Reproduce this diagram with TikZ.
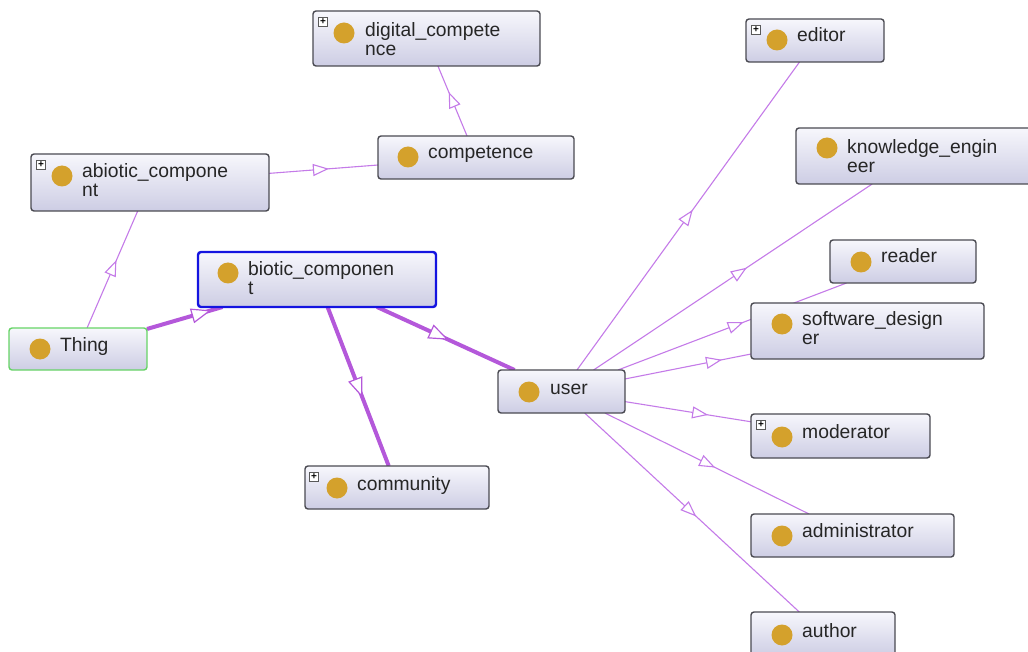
\documentclass[tikz,border=0pt]{standalone}
\usepackage{fontspec}
\setmainfont{Liberation Sans}
\usetikzlibrary{arrows.meta,decorations.markings,backgrounds}
\definecolor{boxline}{HTML}{4A4A52}
\definecolor{boxtop}{HTML}{F7F7FC}
\definecolor{boxbot}{HTML}{CDCDE4}
\definecolor{gold}{HTML}{D4A12C}
\definecolor{edgec}{HTML}{C47BE8}
\definecolor{edgethick}{HTML}{B458DA}
\definecolor{selblue}{HTML}{1414E0}
\definecolor{thinggreen}{HTML}{66D466}
\tikzset{
 cls/.style={shape=rectangle, draw=boxline, line width=1.4pt, rounded corners=3pt,
   top color=boxtop, bottom color=boxbot, anchor=north west, inner sep=0pt, outer sep=0pt},
 dot/.style={circle, fill=gold, minimum size=21pt, inner sep=0pt},
 lbl/.style={font=\fontsize{19.3}{19}\selectfont, inner sep=0pt, text=black!85, align=left},
 plusbox/.style={draw=black!65, fill=white, line width=0.6pt, minimum size=9pt, inner sep=0pt,
   font=\bfseries\fontsize{10}{10}\selectfont},
 isa/.style={color=edgec, line width=1.1pt, postaction={decorate},
   decoration={markings, mark=at position #1 with {\arrow{Triangle[length=16pt,width=12pt,fill=white,line width=1.1pt]}}}},
 isathick/.style={color=edgethick, line width=4pt, postaction={decorate},
   decoration={markings, mark=at position #1 with {\arrow{Triangle[length=20pt,width=15pt,fill=white,line width=1.2pt]}}}},
}
\begin{document}
\begin{tikzpicture}[x=1pt,y=-1pt]
\useasboundingbox (0,0) rectangle (1028,652);
% ---- boxes ----
\node[cls, minimum width=227pt, minimum height=55pt] (digital) at (313,11) {};
\node[plusbox] (digital-p) at (323,22) {+};
\node[dot] (digital-d) at (344,33) {};
\node[lbl, anchor=north west] (digital-t) at (365,22) {digital\_compete\\nce};

\node[cls, minimum width=196pt, minimum height=43pt] (competence) at (378,136) {};
\node[dot] (competence-d) at (408,157) {};
\node[lbl, anchor=base west] (competence-t) at (428,159) {competence};

\node[cls, minimum width=238pt, minimum height=57pt] (abiotic) at (31,154) {};
\node[plusbox] (abiotic-p) at (41,165) {+};
\node[dot] (abiotic-d) at (62,176) {};
\node[lbl, anchor=north west] (abiotic-t) at (82,163) {abiotic\_compone\\nt};

\node[cls, draw=selblue, line width=2.4pt, minimum width=238pt, minimum height=55pt] (biotic) at (198,252) {};
\node[dot] (biotic-d) at (228,273) {};
\node[lbl, anchor=north west] (biotic-t) at (248,261) {biotic\_componen\\t};

\node[cls, draw=thinggreen, minimum width=138pt, minimum height=42pt] (thing) at (9,328) {};
\node[dot] (thing-d) at (40,349) {};
\node[lbl, anchor=base west] (thing-t) at (60,351) {Thing};

\node[cls, minimum width=127pt, minimum height=43pt] (user) at (498,370) {};
\node[dot] (user-d) at (529,392) {};
\node[lbl, anchor=base west] (user-t) at (550,394) {user};

\node[cls, minimum width=184pt, minimum height=43pt] (community) at (305,466) {};
\node[plusbox] (community-p) at (314,477) {+};
\node[dot] (community-d) at (337,488) {};
\node[lbl, anchor=base west] (community-t) at (357,490) {community};

\node[cls, minimum width=138pt, minimum height=43pt] (editor) at (746,19) {};
\node[plusbox] (editor-p) at (756,30) {+};
\node[dot] (editor-d) at (777,40) {};
\node[lbl, anchor=base west] (editor-t) at (797,42) {editor};

\node[cls, minimum width=236pt, minimum height=56pt] (ke) at (796,128) {};
\node[dot] (ke-d) at (827,148) {};
\node[lbl, anchor=north west] (ke-t) at (847,139) {knowledge\_engin\\eer};

\node[cls, minimum width=146pt, minimum height=43pt] (reader) at (830,240) {};
\node[dot] (reader-d) at (861,262) {};
\node[lbl, anchor=base west] (reader-t) at (881,263) {reader};

\node[cls, minimum width=233pt, minimum height=56pt] (software) at (751,303) {};
\node[dot] (software-d) at (782,324) {};
\node[lbl, anchor=north west] (software-t) at (802,311) {software\_design\\er};

\node[cls, minimum width=179pt, minimum height=44pt] (moderator) at (751,414) {};
\node[plusbox] (moderator-p) at (761,425) {+};
\node[dot] (moderator-d) at (782,437) {};
\node[lbl, anchor=base west] (moderator-t) at (802,438) {moderator};

\node[cls, minimum width=203pt, minimum height=43pt] (admin) at (751,514) {};
\node[dot] (admin-d) at (782,536) {};
\node[lbl, anchor=base west] (admin-t) at (802,537) {administrator};

\node[cls, minimum width=144pt, minimum height=44pt] (author) at (751,612) {};
\node[dot] (author-d) at (782,635) {};
\node[lbl, anchor=base west] (author-t) at (802,637) {author};

% ---- connectors ----
\begin{pgfonlayer}{background}
\draw[isa=0.58] (thing) -- (abiotic);
\draw[isathick=0.85] (thing) -- (biotic);
\draw[isa=0.55] (abiotic) -- (competence);
\draw[isa=0.63] (competence) -- (digital);
\draw[isathick=0.52] (biotic) -- (user);
\draw[isathick=0.57] (biotic) -- (community);
\draw[isa=0.52] (user) -- (editor);
\draw[isa=0.55] (user) -- (ke);
\draw[isa=0.55] (user) -- (reader);
\draw[isa=0.77] (user) -- (software);
\draw[isa=0.66] (user) -- (moderator);
\draw[isa=0.54] (user) -- (admin);
\draw[isa=0.52] (user) -- (author);
\end{pgfonlayer}
\end{tikzpicture}
\end{document}
